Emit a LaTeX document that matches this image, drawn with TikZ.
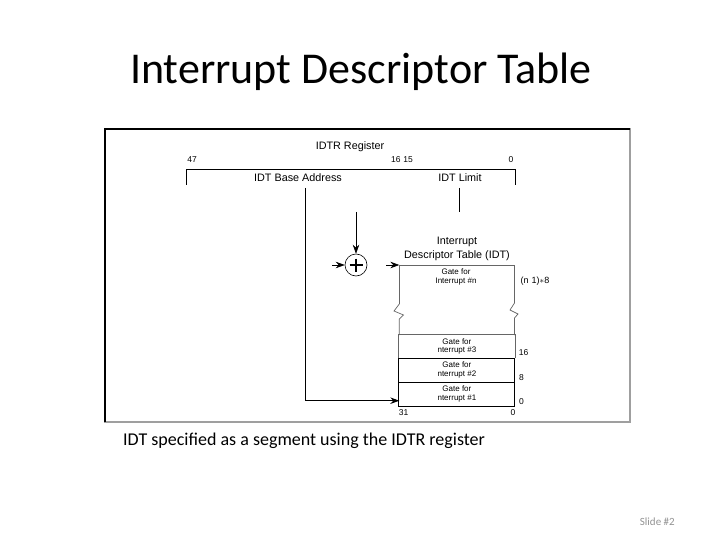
\documentclass[tikz,border=0pt]{standalone}
\usepackage{fontspec}
\setmainfont{Liberation Sans}
\newfontfamily\carl{Carlito}
\usetikzlibrary{arrows.meta,calc}
\begin{document}
\begin{tikzpicture}[x=1pt,y=-1pt,
  lbl/.style={inner sep=0pt, font=\fontsize{10.8}{12}\selectfont},
  num/.style={inner sep=0pt, font=\fontsize{8.5}{9}\selectfont},
  gtxt/.style={inner sep=0pt, align=center, font=\fontsize{8}{8.6}\selectfont},
  gate/.style={draw, line width=0.9pt, minimum width=116pt, inner sep=0pt, align=center, font=\fontsize{8}{8.6}\selectfont},
  arr/.style={-{Stealth[length=9pt,width=6.5pt,inset=3pt]}},
  wire/.style={line width=0.9pt},
  ]
\path[fill=white] (0,0) rectangle (720,540);
\useasboundingbox (0,0) rectangle (720,540);

% titles
\node[anchor=base west, inner sep=0pt, font=\carl\fontsize{44}{44}\selectfont] (title) at (130,83.3) {Interrupt Descriptor Table};
\node[anchor=base west, inner sep=0pt, font=\carl\fontsize{18}{18}\selectfont] (caption) at (123,445.7) {IDT specified as a segment using the IDTR register};
\node[anchor=base east, inner sep=0pt, text=gray!85, font=\carl\fontsize{11}{11}\selectfont] (slide) at (675,525) {Slide \#2};

% frame
\draw[gray!75, line width=1.2pt] (105,129) rectangle (630,422);
\draw[black, line width=1.2pt] (105,422) -- (105,129) -- (630,129);

% IDTR register
\node[lbl] (idtr) at (350,147) {IDTR Register};
\node[num] (b47) at (192,160) {47};
\node[num] (b1615) at (402,160) {16\,\,15};
\node[num] (b0) at (511,160) {0};
\coordinate (rl) at (186,185);
\coordinate (rr) at (515,185);
\draw[wire] (rl) -- (186,169) -- (515,169) -- (rr);
\node[lbl] (base) at (298,177.5) {IDT Base Address};
\node[lbl] (limit) at (460,177.5) {IDT Limit};
\coordinate (baseb) at (305.7,188);
\coordinate (limb) at (459,188);
\coordinate (limt) at (459,212);
\draw[wire] (limb) -- (limt);

% adder
\node[draw, circle, minimum size=22pt, inner sep=0pt, line width=0.6pt] (plus) at (356,265) {};
\draw[line width=1.6pt] ($(plus.center)+(-6.5,0)$) -- ++(13,0) ($(plus.center)+(0,-6.5)$) -- ++(0,13);
\coordinate (ptop) at (356,212);
\draw[arr, line width=0.6pt] (ptop) -- (plus.north);
\coordinate (pleft) at (332,265);
\draw[arr, line width=0.6pt] (pleft) -- (plus.west);

% IDT
\node[lbl, align=center, font=\fontsize{10.8}{13.5}\selectfont] (idtlbl) at (457,249) {Interrupt\\Descriptor Table (IDT)};
\coordinate (idttl) at (399.3,265);
\coordinate (idttr) at (514.5,265);
\coordinate (idtin) at (386,265);
\draw[arr, line width=0.6pt] (idtin) -- (idttl);
\draw[wire, gray!80!black, line width=0.7pt] (399.3,304) -- (idttl) -- (idttr) -- (514.5,303);
\draw[wire, gray!80!black, line width=0.7pt] (399.3,304) -- (394,311) -- (403.5,315) -- (399.3,319) -- (399.3,335);
\draw[wire, gray!80!black, line width=0.7pt] (514.5,303) -- (510,310) -- (518,314) -- (514.5,318) -- (514.5,335);
\node[gtxt] (gn) at (456,276.8) {Gate for\\Interrupt \#n};
\node[num, font=\fontsize{9}{9}\selectfont] (nlbl) at (535,281.5) {(n\,\,1)$\ast$8};

\node[gate, draw=none, minimum height=23pt] (g3) at (456.9,346.5) {Gate for\\nterrupt \#3};
\node[gate, minimum height=24pt] (g2) at (456.9,370) {Gate for\\nterrupt \#2};
\node[gate, minimum height=24pt] (g1) at (456.9,394) {Gate for\\nterrupt \#1};
\draw[gray!80!black, line width=0.7pt] (g3.south west) -- (g3.north west) -- (g3.north east) -- (g3.south east);

\node[num] (o16) at (523.5,353) {16};
\node[num] (o8) at (521.5,377.5) {8};
\node[num] (o0) at (521.5,401.5) {0};
\node[num] (b31) at (403.5,412.5) {31};
\node[num] (b0b) at (513,412.5) {0};

% base address to IDT
\coordinate (bcorner) at (305.7,400.7);
\coordinate (btip) at (399.3,400.7);
\draw[wire] (baseb) -- (bcorner) -- (btip);
\draw[arr, line width=0.9pt] ($(btip)+(-14,0)$) -- (btip);
\end{tikzpicture}
\end{document}
